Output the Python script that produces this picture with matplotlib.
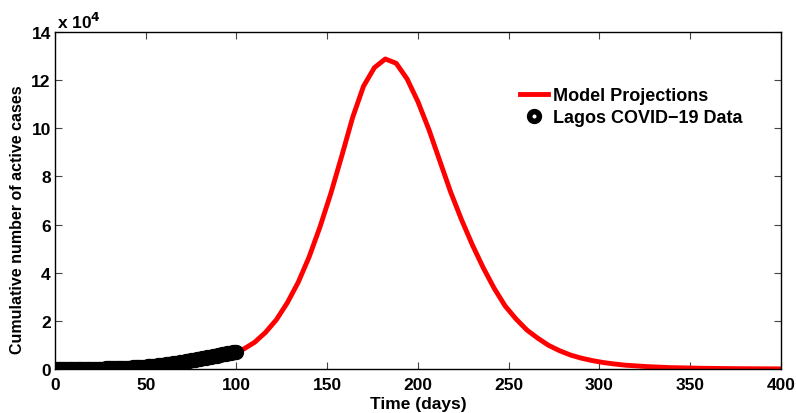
import matplotlib.pyplot as plt
import numpy as np

plt.rcParams['font.family'] = ['Liberation Sans', 'DejaVu Sans']
plt.rcParams['font.weight'] = 'bold'
plt.rcParams['mathtext.default'] = 'bf'

# model projection (days, active cases in units of 1e4)
model_days = [0, 2, 8, 14, 20, 26, 32, 38, 44, 50, 56, 62, 68, 74, 80, 86, 92, 98,
              104, 110, 116, 122, 128, 134, 140, 146, 152, 158, 164, 170, 176, 182,
              188, 194, 200, 206, 212, 218, 224, 230, 236, 242, 248, 254, 260, 266,
              272, 278, 284, 290, 296, 302, 308, 314, 320, 326, 332, 338, 344, 350,
              356, 362, 368, 374, 380, 386, 392, 398, 400]
model_vals = [0.00, 0.01, 0.02, 0.04, 0.06, 0.09, 0.12, 0.16, 0.20, 0.25, 0.30, 0.36,
              0.42, 0.49, 0.56, 0.62, 0.67, 0.72, 0.83, 1.11, 1.52, 2.05, 2.75, 3.60,
              4.65, 5.90, 7.30, 8.85, 10.45, 11.75, 12.52, 12.88, 12.70, 12.05, 11.10,
              9.95, 8.65, 7.35, 6.20, 5.15, 4.20, 3.35, 2.62, 2.08, 1.62, 1.28, 0.98,
              0.76, 0.58, 0.45, 0.35, 0.27, 0.21, 0.16, 0.13, 0.10, 0.08, 0.06, 0.05,
              0.04, 0.03, 0.025, 0.02, 0.015, 0.012, 0.01, 0.008, 0.006, 0.005]

# Lagos COVID-19 data, one value per day (cases)
lagos_cases = [1, 1, 2, 2, 3, 4, 6, 8, 10, 12,
               15, 20, 25, 30, 38, 45, 55, 62, 70, 80,
               90, 100, 112, 125, 140, 155, 170, 188, 205, 225,
               245, 265, 290, 315, 340, 365, 395, 425, 455, 490,
               525, 560, 600, 640, 685, 730, 780, 830, 885, 940,
               1000, 1060, 1125, 1195, 1265, 1340, 1420, 1500, 1590, 1680,
               1770, 1870, 1970, 2070, 2180, 2290, 2400, 2520, 2640, 2760,
               2880, 3000, 3130, 3260, 3390, 3530, 3670, 3810, 3960, 4100,
               4250, 4400, 4550, 4700, 4850, 5000, 5150, 5300, 5450, 5600,
               5750, 5890, 6040, 6180, 6320, 6460, 6600, 6740, 6870, 7000,
               7130]
lagos_days = list(range(len(lagos_cases)))

fig = plt.figure(figsize=(7.96, 4.14), dpi=100)
ax = fig.add_axes([0.0691, 0.1063, 0.912, 0.814])

ax.plot(model_days, model_vals, color='#ff0000', lw=3.5, label='Model Projections')
ax.plot(lagos_days, np.array(lagos_cases) / 1e4, 'o', color='black', mfc='none',
        mec='black', ms=7, mew=4, label='Lagos COVID\u221219 Data')

ax.set_xlim(0, 400)
ax.set_ylim(0, 14)
ax.set_xticks(range(0, 401, 50))
ax.set_yticks(range(0, 15, 2))
ax.tick_params(direction='in', top=True, right=True, length=5, width=0.8,
               color='#444444', labelsize=12.5)
ax.tick_params(axis='x', pad=6)
ax.tick_params(axis='y', pad=3)
for s in ax.spines.values():
    s.set_linewidth(1.0)

ax.set_xlabel('Time (days)', fontsize=12.5, fontweight='bold', labelpad=3)
ax.set_ylabel('Cumulative number of active cases', fontsize=11.5, fontweight='bold')
ax.yaxis.set_label_coords(-0.041, 0.445)
ax.text(0.003, 1.003, r'x 10$^{4}$', transform=ax.transAxes, fontsize=12.5,
        fontweight='bold', ha='left', va='bottom')

ax.legend(loc='upper left', bbox_to_anchor=(0.63, 0.858), frameon=False,
          fontsize=13, handlelength=1.6, handletextpad=0.25, labelspacing=0.3,
          borderaxespad=0)

fig.savefig('out.png', dpi=100)
